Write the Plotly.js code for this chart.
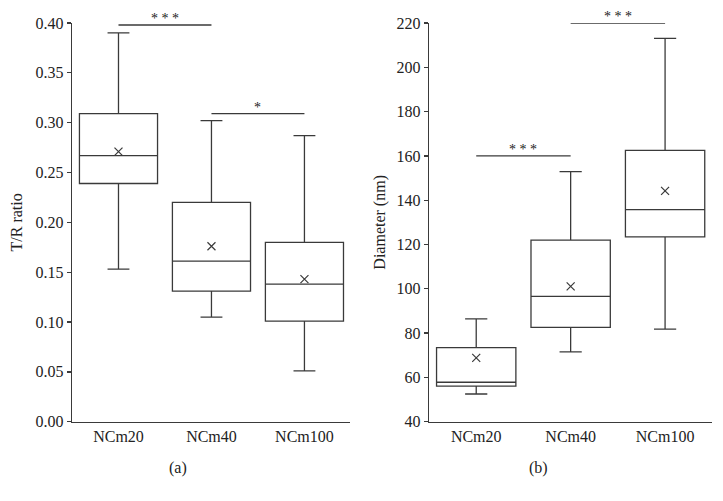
<!DOCTYPE html>
<html><head><meta charset="utf-8">
<script src="https://cdn.plot.ly/plotly-3.0.1.min.js"></script>
<style>html,body{margin:0;padding:0;background:#fff}#chart{width:723px;height:501px}</style>
</head><body><div id="chart"></div>
<script>
// Categories
const categories = ["NCm20", "NCm40", "NCm100"];
// Panel (a): T/R ratio
const trLower = [0.153, 0.105, 0.051];
const trQ1 = [0.239, 0.131, 0.101];
const trMedian = [0.267, 0.161, 0.138];
const trQ3 = [0.309, 0.220, 0.180];
const trUpper = [0.390, 0.302, 0.287];
const trMean = [0.271, 0.176, 0.143];
// Panel (b): Diameter (nm)
const dLower = [52.5, 71.5, 81.8];
const dQ1 = [56.1, 82.6, 123.4];
const dMedian = [57.8, 96.6, 135.7];
const dQ3 = [73.4, 122.0, 162.5];
const dUpper = [86.4, 152.9, 213.1];
const dMean = [68.8, 101.1, 144.2];
// Significance brackets: [fromIndex, toIndex, yValue, label]
const sigA = [[0, 1, 0.398, "* * *"], [1, 2, 0.309, "*"]];
const sigB = [[0, 1, 160, "* * *"], [1, 2, 220, "* * *"]];

const ink = "#222";
const lineInk = "#3a3a3a";
const serif = "Liberation Serif, Times New Roman, serif";

function boxTrace(xa, ya, lo, q1, med, q3, hi) {
  return {
    type: "box", x: categories, lowerfence: lo, q1: q1, median: med, q3: q3, upperfence: hi,
    xaxis: xa, yaxis: ya, width: 0.84, whiskerwidth: 0.28,
    line: {color: lineInk, width: 1.3}, fillcolor: "rgba(255,255,255,0)",
    boxpoints: false, hoverinfo: "skip", showlegend: false
  };
}
function meanTrace(xa, ya, m) {
  return {
    type: "scatter", mode: "markers", x: categories, y: m, xaxis: xa, yaxis: ya,
    marker: {symbol: "x-thin-open", size: 8, line: {color: lineInk, width: 1.2}, color: lineInk},
    showlegend: false, hoverinfo: "skip"
  };
}
const data = [
  boxTrace("x", "y", trLower, trQ1, trMedian, trQ3, trUpper),
  meanTrace("x", "y", trMean),
  boxTrace("x2", "y2", dLower, dQ1, dMedian, dQ3, dUpper),
  meanTrace("x2", "y2", dMean)
];

const shapes = [], annotations = [];
function addSig(list, xr, yr) {
  list.forEach(s => {
    shapes.push({type: "line", xref: xr, yref: yr, x0: s[0], x1: s[1], y0: s[2], y1: s[2],
      line: {color: lineInk, width: 1.3}});
    annotations.push({xref: xr, yref: yr, x: (s[0] + s[1]) / 2, y: s[2], text: s[3],
      showarrow: false, yanchor: "bottom", yshift: -3, font: {family: serif, size: 14, color: ink}});
  });
}
addSig(sigA, "x", "y");
addSig(sigB, "x2", "y2");
annotations.push({xref: "paper", yref: "paper", x: 177.7 / 723, y: 1 - 468 / 501, text: "(a)",
  showarrow: false, xanchor: "center", yanchor: "middle", font: {family: serif, size: 16, color: ink}});
annotations.push({xref: "paper", yref: "paper", x: 538.3 / 723, y: 1 - 468 / 501, text: "(b)",
  showarrow: false, xanchor: "center", yanchor: "middle", font: {family: serif, size: 16, color: ink}});

const xcommon = {
  type: "category", showgrid: false, zeroline: false, showline: true, linecolor: lineInk, linewidth: 1.3,
  ticks: "", tickfont: {family: serif, size: 16, color: ink}, automargin: false, fixedrange: true
};
const ycommon = {
  showgrid: false, zeroline: false, showline: true, linecolor: lineInk, linewidth: 1.3,
  ticks: "outside", ticklen: 4, tickwidth: 1.3, tickcolor: lineInk,
  tickfont: {family: serif, size: 16, color: ink}, automargin: false, fixedrange: true
};
const yTop = 1 - 23 / 501, yBot = 1 - 421.7 / 501;
const layout = {
  width: 723, height: 501, margin: {l: 0, r: 0, t: 0, b: 0},
  paper_bgcolor: "#fff", plot_bgcolor: "rgba(0,0,0,0)",
  xaxis: Object.assign({}, xcommon, {domain: [72 / 723, 350 / 723], range: [-0.5, 2.49], anchor: "y"}),
  yaxis: Object.assign({}, ycommon, {domain: [yBot, yTop], range: [0, 0.4], dtick: 0.05, tickformat: ".2f",
    anchor: "x", title: {text: "T/R ratio", standoff: 9, font: {family: serif, size: 16, color: ink}}}),
  xaxis2: Object.assign({}, xcommon, {domain: [429 / 723, 712.3 / 723], range: [-0.5, 2.5], anchor: "y2"}),
  yaxis2: Object.assign({}, ycommon, {domain: [yBot, yTop], range: [40, 220], dtick: 20,
    anchor: "x2", title: {text: "Diameter (nm)", standoff: 7, font: {family: serif, size: 16, color: ink}}}),
  shapes: shapes, annotations: annotations
};
Plotly.newPlot("chart", data, layout, {displayModeBar: false, staticPlot: true});
</script></body></html>
